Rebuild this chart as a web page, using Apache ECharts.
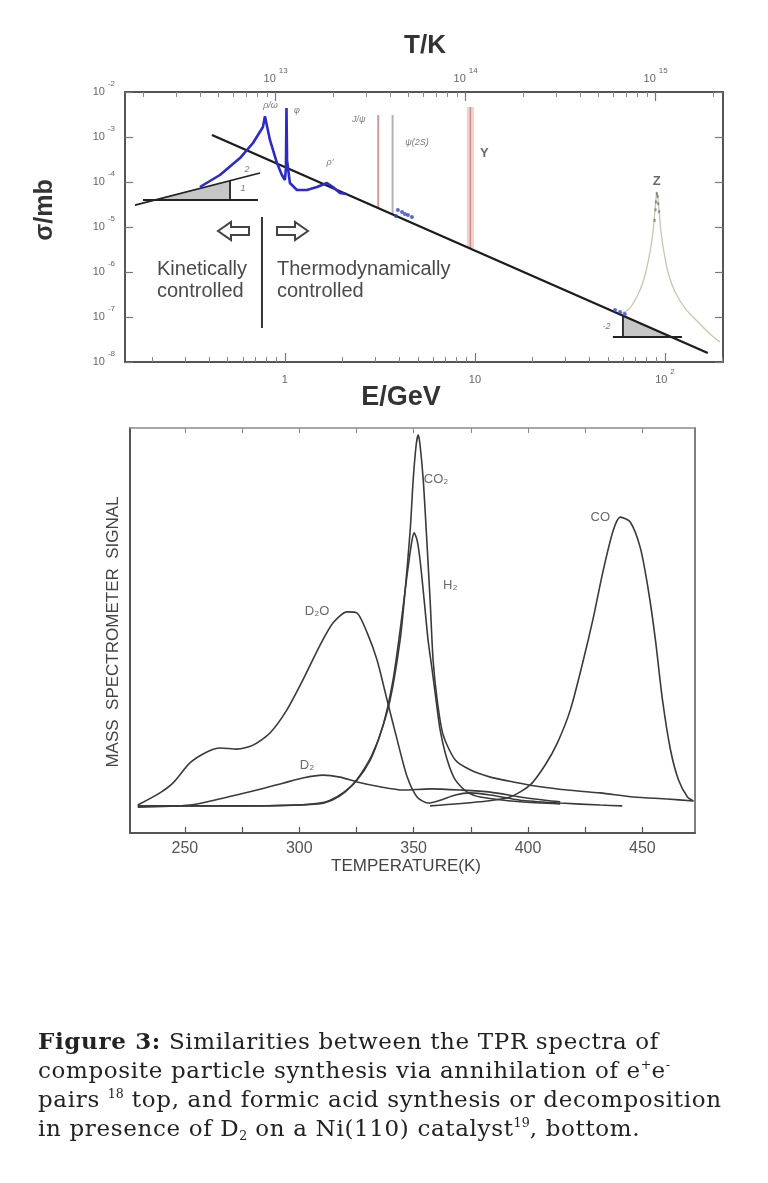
<!DOCTYPE html>
<html><head><meta charset="utf-8">
<script src="https://cdn.jsdelivr.net/npm/echarts@6/dist/echarts.min.js"></script>
<style>
html,body{margin:0;padding:0;background:#fff;}
#chart{position:absolute;left:0;top:0;width:768px;height:1183px;}
#caption{position:absolute;left:38px;top:1026px;font-family:"DejaVu Serif",serif;font-size:23px;letter-spacing:0.65px;line-height:29px;color:#222;white-space:nowrap;}
#caption sup{font-size:0.55em;vertical-align:0.7em;line-height:0;letter-spacing:0;}
#caption sub{font-size:0.55em;vertical-align:-0.35em;line-height:0;letter-spacing:0;}
</style></head><body>
<div id="chart"></div>
<div id="caption"><b>Figure 3:</b> Similarities between the TPR spectra of<br>composite particle synthesis via annihilation of e<sup>+</sup>e<sup>-</sup><br>pairs <sup>18</sup> top, and formic acid synthesis or decomposition<br>in presence of D<sub>2</sub> on a Ni(110) catalyst<sup>19</sup>, bottom.</div>
<script>
// ================= TOP PANEL DATA (E/GeV, sigma/mb) =================
const eTickValues = [1, 10, 100];
const eTickLabels = ['{b|1}', '{b|10}', '{b|10}{s|2}'];
const eMinorTicks = [0.2,0.3,0.4,0.5,0.6,0.7,0.8,0.9,2,3,4,5,6,7,8,9,20,30,40,50,60,70,80,90,200];
const tTickValues = [1e13, 1e14, 1e15];
const tTickLabels = ['{b|10}{s|13}', '{b|10}{s|14}', '{b|10}{s|15}'];
const tMinorTicks = [2e12,3e12,4e12,5e12,6e12,7e12,8e12,9e12,2e13,3e13,4e13,5e13,6e13,7e13,8e13,9e13,2e14,3e14,4e14,5e14,6e14,7e14,8e14,9e14,2e15];
const sigmaTickValues = [1e-8, 1e-7, 1e-6, 1e-5, 1e-4, 1e-3, 1e-2];
const sigmaTickLabels = ['-8', '-7', '-6', '-5', '-4', '-3', '-2'];

const mainLine = [[0.413, 1.107e-3], [168, 1.585e-8]];
const kinSlant = [[0.1625, 3.08e-5], [0.739, 1.585e-4]];
const kinFlat = [[0.179, 3.98e-5], [0.721, 3.98e-5]];
const kinVert = [[0.514, 3.98e-5], [0.514, 1.07e-4]];
const kinTriangle = [[0.206, 3.98e-5], [0.514, 3.98e-5], [0.514, 1.07e-4]];
const lowEData = [
  [0.357, 7.74e-5], [0.455, 1.43e-4], [0.58, 3.41e-4], [0.679, 7.36e-4], [0.766, 1.67e-3],
  [0.785, 2.9e-3], [0.834, 8.6e-4], [0.908, 2.64e-4], [0.964, 1.43e-4], [1.0, 1.11e-4],
  [1.012, 2.0e-4], [1.019, 4.4e-3], [1.026, 3.0e-4], [1.062, 9.5e-5], [1.157, 6.64e-5],
  [1.305, 6.64e-5], [1.474, 7.74e-5], [1.663, 9.5e-5], [1.789, 7.74e-5], [1.947, 5.7e-5], [2.1, 5.4e-5]
];
const midDots = [[3.84, 1.75e-5], [3.93, 2.39e-5], [4.13, 2.15e-5], [4.28, 1.94e-5], [4.44, 1.85e-5], [4.66, 1.67e-5], [54.6, 1.43e-7], [58.0, 1.29e-7], [61.5, 1.17e-7]];
const jpsiLine = [[3.097, 2.7e-5], [3.097, 3.08e-3]];
const psi2sLine = [[3.686, 1.9e-5], [3.686, 3.08e-3]];
const upsLine = [[9.46, 3.4e-6], [9.46, 4.64e-3]];
const zCurve = [
  [58.0, 1.17e-7], [65.4, 1.58e-7], [73.9, 3.98e-7], [78.5, 8.58e-7], [83.4, 2.78e-6], [86.5, 7.74e-6],
  [88.6, 2.39e-5], [90.7, 6.0e-5], [93.0, 2.39e-5], [95.3, 7.74e-6], [98.8, 2.78e-6], [103.7, 1.0e-6],
  [113.0, 3.59e-7], [127.4, 1.58e-7], [149.2, 7.74e-8], [172.6, 4.19e-8], [194.5, 2.78e-8]
];
const zPeakDots = [[90.5, 5.5e-5], [91.5, 4.8e-5], [89.6, 3.6e-5], [92.2, 3.3e-5], [89.2, 2.4e-5], [93.2, 2.2e-5], [88.2, 1.4e-5]];
const zFlat = [[53.2, 3.59e-8], [122.8, 3.59e-8]];
const zVert = [[60.1, 3.59e-8], [60.1, 1.07e-7]];
const zTriangle = [[60.1, 3.59e-8], [107, 3.59e-8], [60.1, 1.07e-7]];
const divider = [[0.757, 1.67e-5], [0.757, 5.7e-8]];
const topLabels = [
  {name: 'ρ/ω', value: [0.84, 4.9e-3]}, {name: 'φ', value: [1.157, 3.98e-3]}, {name: "ρ'", value: [1.726, 2.78e-4]},
  {name: 'J/ψ', value: [2.45, 2.39e-3]}, {name: 'ψ(2S)', value: [4.95, 7.74e-4]},
  {name: '2', value: [0.631, 1.94e-4]}, {name: '1', value: [0.601, 6.99e-5]}, {name: '-2', value: [49.3, 6.0e-8]}
];
const topBigLabels = [{name: 'Υ', value: [11.2, 4.4e-4]}, {name: 'Z', value: [90.6, 1.05e-4]}];

// ================= BOTTOM PANEL DATA (T/K, signal) =================
const tprMajorTicks = [250, 300, 350, 400, 450];
const tprAllTicks = [250, 275, 300, 325, 350, 375, 400, 425, 450];
const tprD2O = [
  [229.4, 6.9], [239.1, 9.9], [244.7, 12.3], [252.2, 17.3], [259.6, 20.0], [265.3, 21.0], [272.8, 20.7],
  [279.8, 21.7], [287.2, 24.7], [294.6, 30.4], [301.6, 37.8], [309.1, 46.4], [314.8, 51.9], [320.9, 54.6],
  [325.3, 54.3], [329.7, 49.4], [334.0, 42.7], [338.4, 32.8], [342.8, 23.0], [347.2, 13.8], [351.5, 8.9],
  [356.3, 7.4], [361.6, 8.1], [368.2, 9.4], [374.7, 9.9], [383.5, 9.4], [396.6, 8.1], [414.1, 7.4], [431.6, 6.9], [441.2, 6.7]
];
const tprD2 = [
  [229.4, 6.4], [252.2, 6.9], [266.6, 8.6], [281.5, 10.6], [292.9, 12.3], [301.6, 13.6], [310.4, 14.3],
  [317.8, 13.8], [325.3, 12.6], [335.3, 11.4], [345.4, 10.6], [357.2, 10.9], [370.4, 10.6], [383.5, 10.1],
  [396.6, 8.9], [407.5, 8.1], [414.1, 7.7]
];
const tprCO2 = [
  [229.4, 6.7], [278.4, 6.7], [300.3, 6.9], [309.1, 7.4], [313.5, 8.1], [319.1, 9.9], [325.3, 13.1],
  [331.0, 18.0], [335.3, 24.2], [339.7, 32.8], [344.1, 47.7], [346.3, 60.0], [348.5, 74.8], [349.8, 87.2],
  [351.1, 95.8], [352.0, 98.3], [352.8, 95.8], [354.2, 87.2], [355.5, 74.8], [357.2, 57.5], [358.5, 42.7],
  [360.3, 32.8], [362.9, 24.2], [368.2, 18.0], [374.7, 15.6], [383.5, 13.8], [393.5, 12.6], [405.4, 11.4],
  [417.2, 10.6], [431.6, 9.9], [446.1, 8.9], [460.9, 8.4], [472.3, 7.9]
];
const tprH2 = [
  [229.4, 6.7], [278.4, 6.7], [308.2, 7.2], [314.3, 8.1], [320.0, 10.1], [325.7, 13.6], [331.8, 19.3],
  [336.7, 26.7], [341.0, 37.8], [344.1, 50.1], [346.3, 60.0], [348.0, 67.4], [349.3, 72.3], [350.2, 74.1],
  [351.5, 72.3], [352.8, 67.4], [354.6, 57.5], [356.3, 47.7], [358.1, 40.2], [359.8, 32.8], [361.6, 25.4],
  [364.7, 18.0], [368.2, 13.1], [373.4, 10.1], [379.1, 8.9], [396.6, 7.7], [414.1, 7.2]
];
const tprCO = [
  [357.2, 6.7], [379.1, 7.7], [392.2, 8.9], [401.0, 11.9], [407.5, 16.8], [412.8, 22.2], [418.5, 30.4],
  [424.2, 42.7], [428.6, 53.3], [432.9, 64.9], [437.3, 74.8], [440.4, 78.0], [444.7, 76.8], [449.1, 70.4],
  [452.6, 60.0], [455.7, 47.7], [458.8, 32.8], [462.3, 20.5], [465.8, 13.1], [469.7, 8.9], [472.3, 7.9]
];
const tprLabels = [
  {name: 'D₂O', value: [307.8, 54.8]}, {name: 'D₂', value: [303.4, 16.8]}, {name: 'CO₂', value: [359.8, 87.2]},
  {name: 'H₂', value: [366.0, 61.2]}, {name: 'CO', value: [431.6, 78.0]}
];

// ================= CHART =================
const FONT = '"Liberation Sans", Arial, Helvetica, sans-serif';
const E_MIN = 0.144, E_MAX = 202, K_PER_GEV = 1.12e13;
const GREY = '#666';
const supRich = {
  b: {fontSize: 11, lineHeight: 24, color: GREY, fontFamily: FONT},
  s: {fontSize: 8, lineHeight: 8, color: GREY, verticalAlign: 'top', padding: [0, 0, 0, 3], fontFamily: FONT}
};
function pick(values, labels, v) {
  for (let i = 0; i < values.length; i++) {
    if (Math.abs(Math.log10(v) - Math.log10(values[i])) < 0.01) return labels[i];
  }
  return '';
}
const chart = echarts.init(document.getElementById('chart'));
const lineBase = {type: 'line', symbol: 'none', silent: true, animation: false, xAxisIndex: 0, yAxisIndex: 0};
function triangleSeries(tri, color) {
  return {
    type: 'custom', xAxisIndex: 0, yAxisIndex: 0, silent: true, animation: false, z: 1,
    data: [tri[0]],
    renderItem: (params, api) => ({
      type: 'polygon',
      shape: {points: tri.map(p => api.coord(p))},
      style: {fill: color}
    })
  };
}
const bottomLine = (data) => ({type: 'line', data, symbol: 'none', silent: true, animation: false, smooth: 0.25,
  xAxisIndex: 4, yAxisIndex: 3, lineStyle: {color: '#3a3a3a', width: 1.6}});

const option = {
  backgroundColor: '#fff',
  animation: false,
  grid: [
    {left: 125, top: 92, width: 598, height: 270},
    {left: 125, top: 92, width: 598, height: 270},
    {left: 130, top: 428, width: 565, height: 405}
  ],
  xAxis: [
    {gridIndex: 0, type: 'log', min: E_MIN, max: E_MAX, position: 'bottom',
      axisLine: {show: true, onZero: false, lineStyle: {color: '#555', width: 2}},
      axisTick: {show: true, inside: true, length: 9, customValues: eTickValues, lineStyle: {color: '#777', width: 1.2}},
      axisLabel: {show: true, customValues: eTickValues, margin: 6, formatter: v => pick(eTickValues, eTickLabels, v), rich: supRich},
      splitLine: {show: false}},
    {gridIndex: 0, type: 'log', min: E_MIN * K_PER_GEV, max: E_MAX * K_PER_GEV, position: 'top',
      axisLine: {show: true, onZero: false, lineStyle: {color: '#555', width: 2}},
      axisTick: {show: true, inside: true, length: 9, customValues: tTickValues, lineStyle: {color: '#777', width: 1.2}},
      axisLabel: {show: true, customValues: tTickValues, margin: 1, formatter: v => pick(tTickValues, tTickLabels, v), rich: supRich},
      splitLine: {show: false}},
    {gridIndex: 1, type: 'log', min: E_MIN, max: E_MAX, position: 'bottom',
      axisLine: {show: false, onZero: false},
      axisTick: {show: true, inside: true, length: 5, customValues: eMinorTicks, lineStyle: {color: '#888', width: 1}},
      axisLabel: {show: false}, splitLine: {show: false}},
    {gridIndex: 1, type: 'log', min: E_MIN * K_PER_GEV, max: E_MAX * K_PER_GEV, position: 'top',
      axisLine: {show: false, onZero: false},
      axisTick: {show: true, inside: true, length: 5, customValues: tMinorTicks, lineStyle: {color: '#888', width: 1}},
      axisLabel: {show: false}, splitLine: {show: false}},
    {gridIndex: 2, type: 'value', min: 226, max: 473, position: 'bottom',
      axisLine: {show: true, onZero: false, lineStyle: {color: '#555', width: 2}},
      axisTick: {show: true, inside: true, length: 6, customValues: tprAllTicks, lineStyle: {color: '#555', width: 1.2}},
      axisLabel: {show: true, customValues: tprMajorTicks, margin: 8, color: '#555', fontSize: 16, fontFamily: FONT},
      splitLine: {show: false}},
    {gridIndex: 2, type: 'value', min: 226, max: 473, position: 'top',
      axisLine: {show: true, onZero: false, lineStyle: {color: '#8a8a8a', width: 1.5}},
      axisTick: {show: true, inside: true, length: 5, customValues: tprAllTicks, lineStyle: {color: '#888', width: 1}},
      axisLabel: {show: false}, splitLine: {show: false}}
  ],
  yAxis: [
    {gridIndex: 0, type: 'log', min: 1e-8, max: 1e-2, position: 'left',
      axisLine: {show: true, onZero: false, lineStyle: {color: '#555', width: 2}},
      axisTick: {show: true, inside: true, length: 8, customValues: sigmaTickValues, lineStyle: {color: '#777', width: 1.2}},
      axisLabel: {show: true, customValues: sigmaTickValues, margin: 10,
        formatter: v => '{b|10}{s|' + pick(sigmaTickValues, sigmaTickLabels, v) + '}', rich: supRich},
      splitLine: {show: false}},
    {gridIndex: 0, type: 'log', min: 1e-8, max: 1e-2, position: 'right',
      axisLine: {show: true, onZero: false, lineStyle: {color: '#555', width: 2}},
      axisTick: {show: true, inside: true, length: 8, customValues: sigmaTickValues, lineStyle: {color: '#777', width: 1.2}},
      axisLabel: {show: false}, splitLine: {show: false}},
    {gridIndex: 1, type: 'log', min: 1e-8, max: 1e-2, show: false},
    {gridIndex: 2, type: 'value', min: 0, max: 100, position: 'left',
      axisLine: {show: true, onZero: false, lineStyle: {color: '#555', width: 2}},
      axisTick: {show: false}, axisLabel: {show: false}, splitLine: {show: false}},
    {gridIndex: 2, type: 'value', min: 0, max: 100, position: 'right',
      axisLine: {show: true, onZero: false, lineStyle: {color: '#555', width: 1.5}},
      axisTick: {show: false}, axisLabel: {show: false}, splitLine: {show: false}}
  ],
  series: [
    // ---- top panel ----
    triangleSeries(kinTriangle, '#c6c6c6'),
    triangleSeries(zTriangle, '#c6c6c6'),
    Object.assign({}, lineBase, {data: upsLine, z: 2, lineStyle: {color: 'rgba(225,150,150,0.45)', width: 7}}),
    Object.assign({}, lineBase, {data: upsLine, z: 2, lineStyle: {color: '#cc8a8a', width: 1.4}}),
    Object.assign({}, lineBase, {data: jpsiLine, z: 2, lineStyle: {color: '#d49a9a', width: 2}}),
    Object.assign({}, lineBase, {data: psi2sLine, z: 2, lineStyle: {color: '#b4b0bc', width: 2}}),
    Object.assign({}, lineBase, {data: zCurve, z: 2, smooth: 0.3, lineStyle: {color: '#c8c6ae', width: 1.3}}),
    {type: 'scatter', xAxisIndex: 0, yAxisIndex: 0, data: zPeakDots, symbol: 'rect', symbolSize: [2, 3], silent: true,
      animation: false, itemStyle: {color: '#777'}, z: 3},
    Object.assign({}, lineBase, {data: mainLine, z: 4, lineStyle: {color: '#1c1c1c', width: 2.4}}),
    Object.assign({}, lineBase, {data: kinSlant, z: 4, lineStyle: {color: '#222', width: 1.8}}),
    Object.assign({}, lineBase, {data: kinFlat, z: 4, lineStyle: {color: '#222', width: 1.8}}),
    Object.assign({}, lineBase, {data: kinVert, z: 4, lineStyle: {color: '#222', width: 1.8}}),
    Object.assign({}, lineBase, {data: zFlat, z: 4, lineStyle: {color: '#222', width: 1.8}}),
    Object.assign({}, lineBase, {data: zVert, z: 4, lineStyle: {color: '#222', width: 1.8}}),
    Object.assign({}, lineBase, {data: lowEData, z: 5, lineStyle: {color: '#2b2bcc', width: 2.6}}),
    {type: 'scatter', xAxisIndex: 0, yAxisIndex: 0, data: midDots, symbolSize: 4, silent: true, animation: false,
      itemStyle: {color: '#3344cc'}, z: 5},
    Object.assign({}, lineBase, {data: divider, z: 4, lineStyle: {color: '#333', width: 2}}),
    {type: 'scatter', xAxisIndex: 0, yAxisIndex: 0, data: topLabels, symbolSize: 0, silent: true, animation: false, z: 6,
      label: {show: true, position: 'inside', formatter: '{b}', fontSize: 9, fontStyle: 'italic', color: '#555', fontFamily: FONT}},
    {type: 'scatter', xAxisIndex: 0, yAxisIndex: 0, data: topBigLabels, symbolSize: 0, silent: true, animation: false, z: 6,
      label: {show: true, position: 'inside', formatter: '{b}', fontSize: 13, fontWeight: 'bold', color: '#444', fontFamily: FONT}},
    // ---- bottom panel ----
    bottomLine(tprD2O), bottomLine(tprD2), bottomLine(tprCO2), bottomLine(tprH2), bottomLine(tprCO),
    {type: 'scatter', xAxisIndex: 4, yAxisIndex: 3, data: tprLabels, symbolSize: 0, silent: true, animation: false, z: 6,
      label: {show: true, position: 'inside', formatter: '{b}', fontSize: 13, color: '#444', fontFamily: FONT}}
  ],
  graphic: [
    {type: 'text', x: 425, y: 46, style: {text: 'T/K', font: 'bold 26px ' + FONT, fill: '#333', align: 'center', verticalAlign: 'middle'}},
    {type: 'text', x: 401, y: 398, style: {text: 'E/GeV', font: 'bold 27px ' + FONT, fill: '#333', align: 'center', verticalAlign: 'middle'}},
    {type: 'text', x: 45, y: 210, rotation: Math.PI / 2, style: {text: 'σ/mb', font: 'bold 25px ' + FONT, fill: '#333', align: 'center', verticalAlign: 'middle'}},
    {type: 'polygon', shape: {points: [[218, 231], [231, 222], [231, 227], [249, 227], [249, 235], [231, 235], [231, 240]]},
      style: {fill: '#fff', stroke: '#444', lineWidth: 2}},
    {type: 'polygon', shape: {points: [[308, 231], [295, 222], [295, 227], [277, 227], [277, 235], [295, 235], [295, 240]]},
      style: {fill: '#fff', stroke: '#444', lineWidth: 2}},
    {type: 'text', x: 157, y: 258, style: {text: 'Kinetically\ncontrolled', font: '20px ' + FONT, lineHeight: 22, fill: '#4a4a4a', align: 'left', verticalAlign: 'top'}},
    {type: 'text', x: 277, y: 258, style: {text: 'Thermodynamically\ncontrolled', font: '20px ' + FONT, lineHeight: 22, fill: '#4a4a4a', align: 'left', verticalAlign: 'top'}},
    {type: 'text', x: 406, y: 866, style: {text: 'TEMPERATURE(K)', font: '17px ' + FONT, fill: '#444', align: 'center', verticalAlign: 'middle'}},
    {type: 'text', x: 113, y: 632, rotation: Math.PI / 2, style: {text: 'MASS  SPECTROMETER  SIGNAL', font: '17px ' + FONT, fill: '#444', align: 'center', verticalAlign: 'middle'}}
  ]
};
chart.setOption(option);
</script>
</body></html>
